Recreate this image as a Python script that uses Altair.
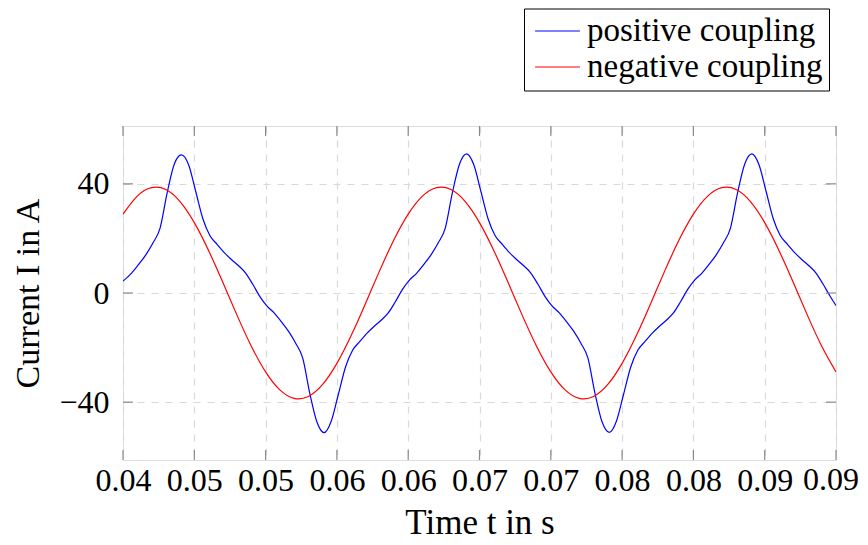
import altair as alt
import pandas as pd

# ---- data ----
x_tick_values = [0.04, 0.045, 0.05, 0.055, 0.06, 0.065, 0.07, 0.075, 0.08, 0.085, 0.09]
y_tick_values = [-40, 0, 40]

red_t = [round(0.040 + 0.001 * k, 4) for k in range(51)]
red_v = [28.9, 35.5, 38.6, 37.9, 33.5, 25.8, 15.6, 3.9, -8.2, -19.5,
         -28.9, -35.5, -38.6, -37.9, -33.5, -25.8, -15.6, -3.9, 8.2, 19.5,
         28.9, 35.5, 38.6, 37.9, 33.5, 25.8, 15.6, 3.9, -8.2, -19.5,
         -28.9, -35.5, -38.6, -37.9, -33.5, -25.8, -15.6, -3.9, 8.2, 19.5,
         28.9, 35.5, 38.6, 37.9, 33.5, 25.8, 15.6, 3.9, -8.2, -19.5,
         -28.9]

blue_t = [0.0400] + [round(0.0401 + 0.0005 * k, 4) for k in range(100)] + [0.0900]
blue_v = [4.4,
          4.8, 7.3, 10.5, 14.0, 18.3, 23.8, 36.8, 47.3, 50.6, 47.0,
          37.2, 27.2, 21.0, 17.8, 14.8, 12.3, 10.0, 7.3, 3.2,
          -1.3, -4.8, -7.3, -10.5, -14.0, -18.3, -23.8, -36.8, -47.3, -51.2,
          -47.0, -37.2, -27.2, -21.0, -17.8, -14.8, -12.3, -10.0, -7.3, -3.2,
          1.3, 4.8, 7.3, 10.5, 14.0, 18.3, 23.8, 36.8, 47.3, 51.0,
          47.0, 37.2, 27.2, 21.0, 17.8, 14.8, 12.3, 10.0, 7.3, 3.2,
          -1.3, -4.8, -7.3, -10.5, -14.0, -18.3, -23.8, -36.8, -47.3, -51.1,
          -47.0, -37.2, -27.2, -21.0, -17.8, -14.8, -12.3, -10.0, -7.3, -3.2,
          1.3, 4.8, 7.3, 10.5, 14.0, 18.3, 23.8, 36.8, 47.3, 51.0,
          47.0, 37.2, 27.2, 21.0, 17.8, 14.8, 12.3, 10.0, 7.3, 3.2,
          -1.3,
          -4.6]

series_names = ["positive coupling", "negative coupling"]
series_colors = ["#0000ff", "#ff0000"]

df = pd.concat([
    pd.DataFrame({"t": blue_t, "v": blue_v, "series": series_names[0]}),
    pd.DataFrame({"t": red_t, "v": red_v, "series": series_names[1]}),
], ignore_index=True)

W, H = 713, 334
FONT = "Liberation Serif"
FS = 32
TFS = 35
LABEL_PAD = 5
TICK_LEN = 10
TICK_COLOR = "#8a8a8a"
last_tick = x_tick_values[-1]

x_enc = alt.X(
    "t:Q",
    scale=alt.Scale(domain=[0.04, 0.09], nice=False, zero=False),
    axis=alt.Axis(
        values=x_tick_values,
        labelExpr=f"datum.value > {last_tick - 0.0001} ? '' : "
                  "format(round(datum.value*100 + 0.001)/100, '.2f')",
        title="Time t in s",
        grid=True, gridDash=[7, 7], gridColor="#d9d9d9", gridWidth=1.2,
        tickSize=0, domain=False, labelFlush=False,
        labelFont=FONT, labelFontSize=FS, labelColor="black", labelPadding=LABEL_PAD,
        titleFont=FONT, titleFontSize=TFS, titleFontWeight="normal", titleColor="black",
        titlePadding=9,
    ),
)
y_enc = alt.Y(
    "v:Q",
    scale=alt.Scale(domain=[-61.2, 61.2], nice=False, zero=False),
    axis=alt.Axis(
        values=y_tick_values,
        title="Current I in A",
        grid=True, gridDash=[7, 7], gridColor="#d9d9d9", gridWidth=1.2,
        tickSize=0, domain=False,
        labelFont=FONT, labelFontSize=FS, labelColor="black", labelPadding=14,
        titleFont=FONT, titleFontSize=34, titleFontWeight="normal", titleColor="black",
        titlePadding=13,
    ),
)
color_enc = alt.Color(
    "series:N",
    scale=alt.Scale(domain=series_names, range=series_colors),
    legend=alt.Legend(
        title=None, orient="none", legendX=401, legendY=-117.5,
        symbolType="M-1.6,0H1.6", symbolSize=784, symbolStrokeWidth=1.2,
        symbolOffset=11,
        labelFont=FONT, labelFontSize=33, labelColor="black", labelOffset=13,
        labelLimit=400,
        strokeColor="black", fillColor="white", padding=6, rowPadding=2,
    ),
)

base = alt.Chart(df)
blue_line = base.transform_filter(alt.datum.series == series_names[0]).mark_line(
    interpolate="monotone", strokeWidth=1.2, clip=True
).encode(x=x_enc, y=y_enc, color=color_enc)
red_line = base.transform_filter(alt.datum.series == series_names[1]).mark_line(
    interpolate="natural", strokeWidth=1.2, clip=True
).encode(x="t:Q", y="v:Q", color="series:N")

xt = alt.Chart(pd.DataFrame({"t": x_tick_values}))
yt = alt.Chart(pd.DataFrame({"v": y_tick_values}))
tick_style = dict(color=TICK_COLOR, strokeWidth=1.2)
x_ticks_bottom = xt.mark_rule(**tick_style).encode(
    x="t:Q", y=alt.value(H - TICK_LEN), y2=alt.value(H))
x_ticks_top = xt.mark_rule(**tick_style).encode(
    x="t:Q", y=alt.value(0), y2=alt.value(TICK_LEN))
y_ticks_left = yt.mark_rule(**tick_style).encode(
    y="v:Q", x=alt.value(0), x2=alt.value(TICK_LEN))
y_ticks_right = yt.mark_rule(**tick_style).encode(
    y="v:Q", x=alt.value(W - TICK_LEN), x2=alt.value(W))

# last x tick label, nudged slightly left so it stays inside the page
last_label = alt.Chart(pd.DataFrame({"t": [last_tick]})).mark_text(
    font=FONT, fontSize=FS, color="black", baseline="top", align="center", dx=-5
).encode(x="t:Q", y=alt.value(H + LABEL_PAD), text=alt.Text("t:Q", format=".2f"))

chart = alt.layer(
    blue_line, red_line, x_ticks_bottom, x_ticks_top, y_ticks_left, y_ticks_right,
    last_label
).properties(
    width=W, height=H,
    autosize=alt.AutoSizeParams(type="none"),
    padding={"left": 115, "top": 118, "right": 24, "bottom": 84},
).configure_view(
    stroke="black", strokeWidth=1.3
).configure(background="white")

chart.save("out.html", embed_options={"renderer": "svg", "actions": False})
